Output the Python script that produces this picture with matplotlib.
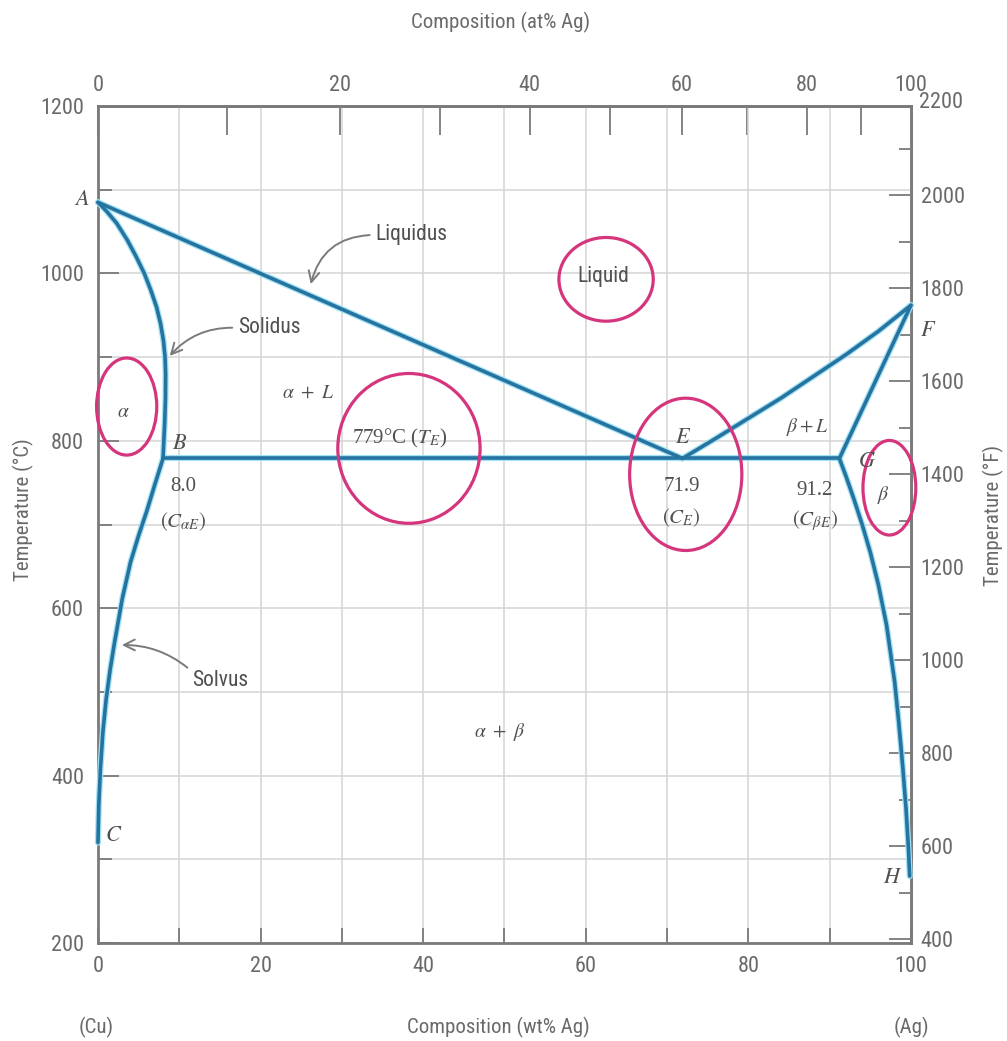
import matplotlib
matplotlib.use("Agg")
import matplotlib.pyplot as plt
from matplotlib import font_manager
from matplotlib.patches import Ellipse
import numpy as np

# phase boundaries (wt% Ag, deg C)
solidus_a_wt = [0, 1.0, 2.3, 3.6, 4.7, 5.7, 6.5, 7.2, 7.7, 8.05, 8.25, 8.32, 8.3, 8.2, 8.1, 8.0]
solidus_a_T = [1085, 1075, 1060, 1040, 1020, 1000, 980, 960, 940, 920, 900, 880, 850, 820, 800, 779]
solvus_a_wt = [8.0, 7.0, 6.0, 5.0, 4.0, 3.0, 2.0, 1.5, 1.0, 0.6, 0.3, 0.1, 0]
solvus_a_T = [779, 748, 716, 687, 655, 612, 557, 527, 491, 452, 408, 365, 320]
liquidus_a_wt = [0, 71.9]
liquidus_a_T = [1085, 779]
liquidus_b_wt = [71.9, 76, 80, 84, 88, 92, 96, 100]
liquidus_b_T = [779, 803, 827, 851, 877, 903, 931, 962]
solidus_b_wt = [91.2, 100]
solidus_b_T = [779, 962]
solvus_b_wt = [91.2, 92.0, 93.0, 94.0, 95.0, 96.0, 97.0, 98.0, 98.5, 99.0, 99.4, 99.7, 99.85]
solvus_b_T = [779, 758, 730, 700, 667, 628, 580, 512, 464, 410, 360, 312, 280]
eutectic_wt = [8.0, 91.2]
eutectic_T = [779, 779]

wt_ticks = [0, 20, 40, 60, 80, 100]
wt_minor = [10, 30, 50, 70, 90]
at_ticks = [0, 20, 40, 60, 80, 100]
at_minor = [10, 30, 50, 70, 90]
c_ticks = [200, 400, 600, 800, 1000, 1200]
c_minor = [300, 500, 700, 900, 1100]
f_ticks = [400, 600, 800, 1000, 1200, 1400, 1600, 1800, 2000]
f_minor = [500, 700, 900, 1100, 1300, 1500, 1700, 1900, 2100]
f_top_label = 2200

M_AG, M_CU = 107.87, 63.55


def wt_to_at(w):
    w = np.asarray(w, float)
    a = w / M_AG
    c = (100 - w) / M_CU
    return 100 * a / (a + c)


def at_to_wt(x):
    x = np.asarray(x, float)
    a = x * M_AG
    c = (100 - x) * M_CU
    return 100 * a / (a + c)


def c_to_f(c):
    return np.asarray(c, float) * 9 / 5 + 32


def f_to_c(f):
    return (np.asarray(f, float) - 32) * 5 / 9


names = {f.name for f in font_manager.fontManager.ttflist}
sans = "Liberation Sans"
for cand in ["Liberation Sans Narrow", "Roboto Condensed", "Open Sans Condensed"]:
    if cand in names:
        sans = cand
        break
narrow = sans != "Liberation Sans"
plt.rcParams["font.family"] = [sans, "DejaVu Sans"]
plt.rcParams["mathtext.fontset"] = "stix"

TICK_FS = 16 if narrow else 14.5
LAB_FS = 15 if narrow else 13.5

GRAY = "#6a6a6a"
TXT = "#505050"
SPINE = "#7a7a7a"
BLUE = "#2673a0"
HALO = "#9fe0f4"
PINK = "#d5357c"

fig = plt.figure(figsize=(10.07, 10.41), dpi=100)
ax = fig.add_axes([0.0973, 0.0941, 0.8073, 0.8040])
ax.set_xlim(0, 100)
ax.set_ylim(200, 1200)

ax.set_xticks(wt_ticks)
ax.set_xticks(wt_minor, minor=True)
ax.set_yticks(c_ticks)
ax.set_yticks(c_minor, minor=True)
ax.grid(which="both", color="#d4d4d4", lw=1.1)
ax.set_axisbelow(True)
ax.tick_params(which="both", direction="in", color=SPINE, labelcolor=GRAY,
               labelsize=TICK_FS, width=1.3)
ax.tick_params(axis="x", which="both", length=11, pad=9)
ax.tick_params(axis="y", which="major", length=15, pad=10)
ax.tick_params(axis="y", which="minor", length=10)
for s in ax.spines.values():
    s.set_color(SPINE)
    s.set_linewidth(2)

secx = ax.secondary_xaxis("top", functions=(wt_to_at, at_to_wt))
secx.set_xticks(at_ticks)
secx.set_xticks(at_minor, minor=True)
secx.tick_params(which="both", direction="in", length=21, color=SPINE,
                 labelcolor=GRAY, labelsize=TICK_FS, pad=7, width=1.3)
secx.spines["top"].set_color(SPINE)
secx.spines["top"].set_linewidth(2)

secy = ax.secondary_yaxis("right", functions=(c_to_f, f_to_c))
secy.set_yticks(f_ticks)
secy.set_yticks(f_minor, minor=True)
secy.tick_params(which="major", direction="in", length=16, color=SPINE,
                 labelcolor=GRAY, labelsize=TICK_FS, pad=7, width=1.3)
secy.tick_params(which="minor", direction="in", length=9, color=SPINE, width=1.3)
secy.spines["right"].set_color(SPINE)
secy.spines["right"].set_linewidth(2)
# 2200 F sits a hair above the 1200 C limit, so it is written by hand
ax.text(101.0, float(f_to_c(f_top_label)), str(f_top_label), color=GRAY, fontsize=TICK_FS,
        ha="left", va="center", clip_on=False)


def boundary(wt, T):
    ax.plot(wt, T, color=HALO, lw=4.4, solid_capstyle="round", solid_joinstyle="round",
            clip_on=False, zorder=3)
    ax.plot(wt, T, color=BLUE, lw=2.6, solid_capstyle="round", solid_joinstyle="round",
            clip_on=False, zorder=4)


boundary(solidus_a_wt, solidus_a_T)
boundary(solvus_a_wt, solvus_a_T)
boundary(liquidus_a_wt, liquidus_a_T)
boundary(liquidus_b_wt, liquidus_b_T)
boundary(solidus_b_wt, solidus_b_T)
boundary(solvus_b_wt, solvus_b_T)
boundary(eutectic_wt, eutectic_T)

# highlight circles
for (cx, cy, w, h) in [(3.53, 841, 7.4, 116), (38.25, 791, 17.5, 179),
                       (72.3, 760, 13.8, 182), (62.5, 993, 11.6, 100),
                       (97.35, 744, 6.5, 113)]:
    ax.add_patch(Ellipse((cx, cy), w, h, fill=False, ec=PINK, lw=2.3,
                         clip_on=False, zorder=6))

# point letters
serif = dict(color=TXT, fontsize=16, ha="center", va="center", zorder=7)
ax.text(-2.0, 1088, r"$A$", clip_on=False, **serif)
ax.text(10.1, 797, r"$B$", **serif)
ax.text(1.9, 328, r"$C$", **serif)
ax.text(72.0, 804, r"$E$", **serif)
ax.text(102.1, 932, r"$F$", clip_on=False, **serif)
ax.text(94.6, 775, r"$G$", **serif)
ax.text(97.8, 278, r"$H$", **serif)

num = dict(color=TXT, fontsize=15, ha="center", va="center", family="Liberation Serif", zorder=7)
ax.text(10.5, 745, "8.0", **num)
ax.text(10.5, 703, r"$(C_{\alpha E})$", **num)
ax.text(71.8, 745, "71.9", **num)
ax.text(71.8, 708, r"$(C_E)$", **num)
ax.text(88.2, 741, "91.2", **num)
ax.text(88.2, 705, r"$(C_{\beta E})$", **num)
ax.text(37.1, 803, r"779°C ($T_E$)", **num)

ax.text(25.8, 858, r"$\alpha\ +\ L$", color=TXT, fontsize=14, ha="center", va="center")
ax.text(87.2, 816, r"$\beta + L$", color=TXT, fontsize=14, ha="center", va="center")
ax.text(49.4, 452, r"$\alpha\ +\ \beta$", color=TXT, fontsize=14, ha="center", va="center")
ax.text(3.1, 834, r"$\alpha$", color=TXT, fontsize=14, ha="center", va="center")
ax.text(96.6, 735, r"$\beta$", color=TXT, fontsize=14, ha="center", va="center")
ax.text(62.2, 996, "Liquid", color=TXT, fontsize=LAB_FS + 0.5, ha="center", va="center")

arrow = dict(arrowstyle="->,head_length=0.5,head_width=0.25", color="#7a7a7a", lw=1.4)
ax.annotate("Liquidus", xy=(26.1, 984), xytext=(34.1, 1046), color=TXT, fontsize=LAB_FS + 0.5,
            ha="left", va="center",
            arrowprops=dict(connectionstyle="arc3,rad=0.4", relpos=(0, 0.5), **arrow))
ax.annotate("Solidus", xy=(8.6, 899), xytext=(17.2, 935), color=TXT, fontsize=LAB_FS + 0.5,
            ha="left", va="center",
            arrowprops=dict(connectionstyle="arc3,rad=0.25", relpos=(0, 0.5), **arrow))
ax.annotate("Solvus", xy=(2.6, 556), xytext=(11.6, 514), color=TXT, fontsize=LAB_FS + 0.5,
            ha="left", va="center",
            arrowprops=dict(connectionstyle="arc3,rad=0.2", relpos=(0, 0.9), **arrow))

# axis titles
fig.text(501 / 1007, 1 - 22 / 1041, "Composition (at% Ag)", color=GRAY, fontsize=LAB_FS,
         ha="center", va="center")
fig.text(498 / 1007, 1 - 1027 / 1041, "Composition (wt% Ag)", color=GRAY, fontsize=LAB_FS,
         ha="center", va="center")
fig.text(96 / 1007, 1 - 1027 / 1041, "(Cu)", color=GRAY, fontsize=LAB_FS, ha="center", va="center")
fig.text(911 / 1007, 1 - 1027 / 1041, "(Ag)", color=GRAY, fontsize=LAB_FS, ha="center", va="center")
fig.text(23 / 1007, 1 - 510 / 1041, "Temperature (°C)", color=GRAY, fontsize=LAB_FS,
         rotation=90, ha="center", va="center")
fig.text(993 / 1007, 1 - 515 / 1041, "Temperature (°F)", color=GRAY, fontsize=LAB_FS,
         rotation=90, ha="center", va="center")

fig.savefig("out.png", dpi=100, facecolor="white")
